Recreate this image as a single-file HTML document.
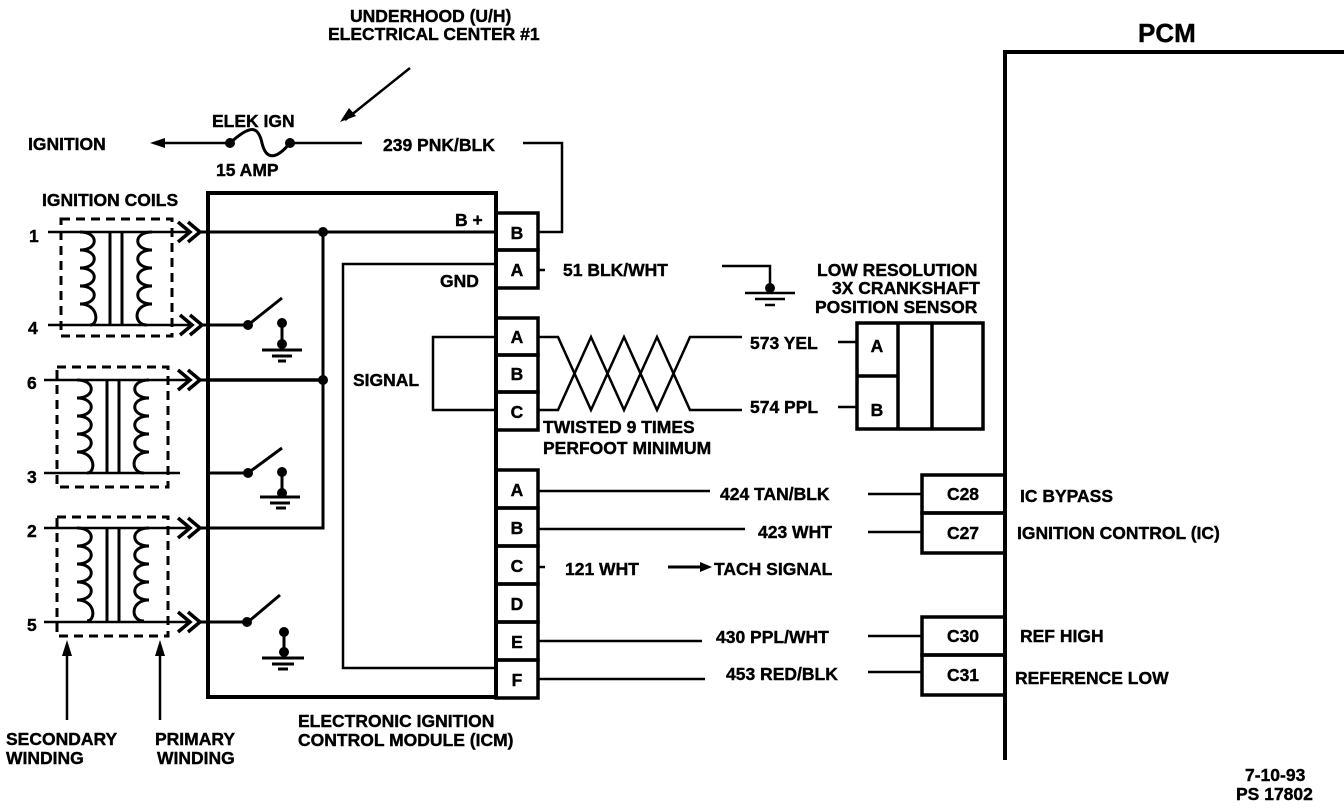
<!DOCTYPE html>
<html><head><meta charset="utf-8"><style>
html,body{margin:0;padding:0;background:#fff;}
svg{display:block}
text{font-family:"Liberation Sans",sans-serif;font-weight:bold;font-size:17.5px;fill:#000;stroke:#000;stroke-width:0.4px}
</style></head><body>
<svg width="1344" height="810" viewBox="0 0 1344 810" xmlns="http://www.w3.org/2000/svg">
<g stroke="#000" fill="none" stroke-width="2.5">
<path d="M1005 760 V52 H1344" stroke-width="4"/>
<path d="M155 143 H230"/>
<path d="M230 143 C250 125 258 125 262 143 C266 160 276 160 290 143" stroke-width="3"/>
<path d="M290 143 H362"/>
<path d="M523 143 H562 V232 H538"/>
<path d="M345 120 L410 68"/>
<rect x="208" y="193" width="288" height="504" stroke-width="4"/>
<rect x="496" y="213" width="42" height="37" stroke-width="3.5"/>
<rect x="496" y="250" width="42" height="38" stroke-width="3.5"/>
<rect x="496" y="318" width="42" height="37" stroke-width="3.5"/>
<rect x="496" y="355" width="42" height="37" stroke-width="3.5"/>
<rect x="496" y="392" width="42" height="38" stroke-width="3.5"/>
<rect x="496" y="470" width="42" height="38" stroke-width="3.5"/>
<rect x="496" y="508" width="42" height="38" stroke-width="3.5"/>
<rect x="496" y="546" width="42" height="38" stroke-width="3.5"/>
<rect x="496" y="584" width="42" height="38" stroke-width="3.5"/>
<rect x="496" y="622" width="42" height="38" stroke-width="3.5"/>
<rect x="496" y="660" width="42" height="38" stroke-width="3.5"/>
<path d="M208 232 H496" stroke-width="3"/>
<path d="M323 232 V528 H208" stroke-width="3"/>
<path d="M208 380 H323" stroke-width="3.5"/>
<path d="M496 264 H343 V668 H496"/>
<path d="M496 337 H433 V410 H496"/>
<g stroke-width="3">
<path d="M208 325 H248 L282 298"/><path d="M282 322 V345 M262 350 H302 M272 356 H292 M278 361 H286"/>
<path d="M208 473 H248 L282 448"/><path d="M282 472 V493 M260 497 H300 M270 503 H290 M276 508 H286"/>
<path d="M208 622 H248 L280 595"/><path d="M284 632 V652 M262 658 H304 M272 664 H294 M278 669 H288"/>
</g>
<path d="M538 270 H545 M722 266 H770 V288 M745 293 H795 M755 299 H785 M765 305 H775"/>
<path d="M538 337 H558 L591 410 L624 337 L657 410 L690 337 H742"/>
<path d="M538 410 H558 L591 337 L624 410 L657 337 L690 410 H742"/>
<path d="M838 342 H857 M838 407 H857"/>
<rect x="857" y="323" width="126" height="106" stroke-width="3.5"/>
<path d="M857 376 H898 M898 323 V429 M932 323 V429" stroke-width="3.5"/>
<path d="M538 491 H710 M868 494 H922"/>
<path d="M538 529 H745 M868 532 H922"/>
<path d="M538 567 H545"/>
<path d="M538 641 H702 M868 636 H922"/>
<path d="M538 679 H705 M868 672 H922"/>
<rect x="922" y="475" width="83" height="38" stroke-width="3.5"/>
<rect x="922" y="513" width="83" height="40" stroke-width="3.5"/>
<rect x="922" y="617" width="83" height="38" stroke-width="3.5"/>
<rect x="922" y="655" width="83" height="40" stroke-width="3.5"/>
<path d="M668 567 H700" stroke-width="3"/>
<g stroke-dasharray="9,6" stroke-width="3">
<rect x="61" y="219" width="111" height="117"/>
<rect x="57" y="367" width="111" height="120"/>
<rect x="57" y="517" width="111" height="119"/>
</g>
<path d="M48 232 H190 M48 325 H190 M44 380 H190 M44 473 H180 M44 528 H190 M44 622 H190" stroke-width="2.5"/>
<g stroke-width="3">
<path d="M110 232 V325 M122 232 V325 M107 380 V473 M119 380 V473 M107 528 V622 M119 528 V622"/>
<path id="c1" d="M80 232 c19 0 19 18 0 18 c19 0 19 18 0 18 c19 0 19 18 0 18 c19 0 19 18 0 18 c19 0 19 21 10 21"/>
<path d="M152 232 c-19 0 -19 18 0 18 c-19 0 -19 18 0 18 c-19 0 -19 18 0 18 c-19 0 -19 18 0 18 c-19 0 -19 21 -5 21"/>
<use href="#c1" transform="translate(-3,148)"/>
<use href="#c1" transform="translate(-3,296)"/>
<path d="M149 380 c-19 0 -19 18 0 18 c-19 0 -19 18 0 18 c-19 0 -19 18 0 18 c-19 0 -19 18 0 18 c-19 0 -19 21 -5 21"/>
<path d="M149 528 c-19 0 -19 18 0 18 c-19 0 -19 18 0 18 c-19 0 -19 18 0 18 c-19 0 -19 18 0 18 c-19 0 -19 21 -5 21"/>
</g>
<g stroke-width="3.5">
<path d="M178 222 L190 232 L178 242 M188 222 L200 232 L188 242 M180 315 L192 325 L180 335 M190 315 L202 325 L190 335"/>
<path d="M178 370 L190 380 L178 390 M188 370 L200 380 L188 390"/>
<path d="M178 518 L190 528 L178 538 M188 518 L200 528 L188 538 M178 612 L190 622 L178 632 M188 612 L200 622 L188 632"/>
</g>
<path d="M200 232 H208 M202 325 H208 M200 380 H208 M200 528 H208 M200 622 H208" stroke-width="3"/>
<path d="M67 720 V650 M160 720 V650"/>
</g>
<g fill="#000">
<polygon points="150,143 165,138 165,148"/>
<polygon points="340,122 349,108 356,116"/>
<polygon points="67,640 62,656 72,656"/><polygon points="160,640 155,656 165,656"/>
<polygon points="712,567 700,562 700,572"/>
<circle cx="230" cy="143" r="5"/><circle cx="290" cy="143" r="5"/>
<circle cx="323" cy="232" r="5"/><circle cx="323" cy="380" r="5"/>
<circle cx="248" cy="325" r="5"/><circle cx="282" cy="323" r="5"/><circle cx="282" cy="344" r="5"/>
<circle cx="248" cy="473" r="5"/><circle cx="282" cy="472" r="5"/><circle cx="282" cy="493" r="5"/>
<circle cx="247" cy="622" r="5"/><circle cx="284" cy="632" r="5"/><circle cx="284" cy="652" r="5"/>
<circle cx="770" cy="288" r="5"/>
</g>
<text x="1138" y="42" style="font-size:26px">PCM</text>
<text x="350" y="22">UNDERHOOD (U/H)</text>
<text x="328" y="40">ELECTRICAL CENTER #1</text>
<text x="212" y="127">ELEK IGN</text>
<text x="216" y="176">15  AMP</text>
<text x="28" y="150">IGNITION</text>
<text x="383" y="151">239 PNK/BLK</text>
<text x="42" y="206">IGNITION COILS</text>
<text x="29" y="242">1</text><text x="28" y="334">4</text><text x="27" y="389">6</text>
<text x="27" y="483">3</text><text x="27" y="537">2</text><text x="27" y="631">5</text>
<text x="455" y="226">B +</text>
<text x="440" y="287">GND</text>
<text x="353" y="386">SIGNAL</text>
<g text-anchor="middle">
<text x="517" y="239">B</text><text x="517" y="276">A</text>
<text x="517" y="343">A</text><text x="517" y="380">B</text><text x="517" y="418">C</text>
<text x="517" y="496">A</text><text x="517" y="534">B</text><text x="517" y="572">C</text>
<text x="517" y="610">D</text><text x="517" y="648">E</text><text x="517" y="686">F</text>
<text x="877" y="352">A</text><text x="877" y="416">B</text>
<text x="963" y="500">C28</text><text x="963" y="539">C27</text>
<text x="963" y="642">C30</text><text x="963" y="681">C31</text>
</g>
<text x="563" y="276">51 BLK/WHT</text>
<text x="817" y="276">LOW RESOLUTION</text>
<text x="832" y="294">3X CRANKSHAFT</text>
<text x="815" y="313">POSITION SENSOR</text>
<text x="750" y="349">573 YEL</text>
<text x="750" y="413">574 PPL</text>
<text x="543" y="433">TWISTED 9 TIMES</text>
<text x="543" y="454">PERFOOT MINIMUM</text>
<text x="720" y="500">424 TAN/BLK</text>
<text x="758" y="538">423 WHT</text>
<text x="565" y="575">121 WHT</text>
<text x="714" y="575">TACH SIGNAL</text>
<text x="716" y="643">430 PPL/WHT</text>
<text x="726" y="680">453 RED/BLK</text>
<text x="1020" y="502">IC BYPASS</text>
<text x="1017" y="539">IGNITION CONTROL (IC)</text>
<text x="1020" y="642">REF HIGH</text>
<text x="1015" y="684">REFERENCE LOW</text>
<text x="298" y="727">ELECTRONIC IGNITION</text>
<text x="298" y="746">CONTROL MODULE (ICM)</text>
<text x="6" y="745">SECONDARY</text><text x="6" y="764">WINDING</text>
<text x="155" y="745">PRIMARY</text><text x="157" y="764">WINDING</text>
<text x="1245" y="781">7-10-93</text>
<text x="1236" y="800">PS 17802</text>
</svg>
</body></html>
